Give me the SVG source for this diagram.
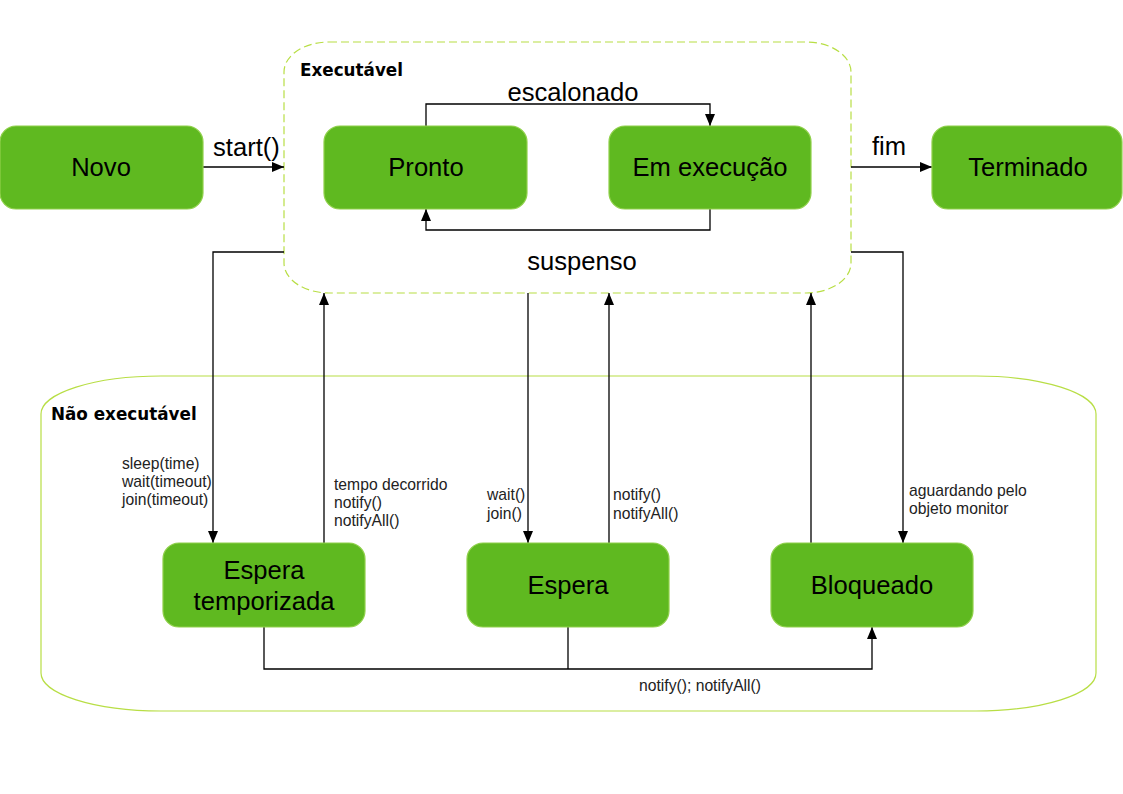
<svg xmlns="http://www.w3.org/2000/svg" width="1123" height="794" viewBox="0 0 1123 794">
<style>
.node{fill:#5fb920;stroke:#8fd04a;stroke-width:1.2}
.nl{font-family:"Liberation Sans",Arial,sans-serif;font-size:25.6px;fill:#000;text-anchor:middle}
.el{font-family:"Liberation Sans",Arial,sans-serif;font-size:25.6px;fill:#000}
.sl{font-family:"Liberation Sans",Arial,sans-serif;font-size:15.7px;fill:#222}
.tl{font-family:"DejaVu Sans",Verdana,sans-serif;font-size:16.8px;font-weight:bold;fill:#000}
.c{fill:none;stroke:#000;stroke-width:1.3}
</style>
<defs>
<marker id="ah" viewBox="0 0 12 10" refX="12" refY="5" markerWidth="12" markerHeight="10" markerUnits="userSpaceOnUse" orient="auto">
<path d="M0,0 L12,5 L0,10 Z" fill="#000"/>
</marker>
</defs>
<rect width="1123" height="794" fill="#fff"/>
<g id="nao-executavel">
<rect x="41" y="376" width="1055" height="335" rx="120" ry="38" fill="none" stroke="#b8de45" stroke-width="1.2"/>
<text class="tl" x="51" y="420">Não executável</text>
</g>
<g id="executavel">
<rect x="284" y="42" width="567" height="251" rx="45" ry="30" fill="none" stroke="#b8de45" stroke-width="1.2" stroke-dasharray="8,4"/>
<text class="tl" x="300" y="76">Executável</text>
</g>
<g id="connectors">
<path class="c" d="M203,167 H284" marker-end="url(#ah)"/>
<path class="c" d="M851,167 H932" marker-end="url(#ah)"/>
<path class="c" d="M426,126 V104 H710 V126" marker-end="url(#ah)"/>
<path class="c" d="M710,209 V230 H426 V209" marker-end="url(#ah)"/>
<path class="c" d="M284,252 H213 V543" marker-end="url(#ah)"/>
<path class="c" d="M324,543 V293" marker-end="url(#ah)"/>
<path class="c" d="M528,293 V543" marker-end="url(#ah)"/>
<path class="c" d="M609,543 V293" marker-end="url(#ah)"/>
<path class="c" d="M811,543 V293" marker-end="url(#ah)"/>
<path class="c" d="M851,252 H903 V543" marker-end="url(#ah)"/>
<path class="c" d="M264,627 V669 H872 V627" marker-end="url(#ah)"/>
<path class="c" d="M568,627 V669"/>
<text class="el" x="213" y="156">start()</text>
<text class="el" x="872" y="155">fim</text>
<text class="el" x="573" y="101" text-anchor="middle">escalonado</text>
<text class="el" x="582" y="270" text-anchor="middle">suspenso</text>
<text class="sl" x="122" y="469">sleep(time)</text>
<text class="sl" x="122" y="487">wait(timeout)</text>
<text class="sl" x="122" y="505">join(timeout)</text>
<text class="sl" x="334" y="490">tempo decorrido</text>
<text class="sl" x="334" y="508">notify()</text>
<text class="sl" x="334" y="526">notifyAll()</text>
<text class="sl" x="487" y="500">wait()</text>
<text class="sl" x="487" y="519">join()</text>
<text class="sl" x="613" y="500">notify()</text>
<text class="sl" x="613" y="519">notifyAll()</text>
<text class="sl" x="909" y="496">aguardando pelo</text>
<text class="sl" x="909" y="514">objeto monitor</text>
<text class="sl" x="639" y="691">notify(); notifyAll()</text>
</g>
<g id="novo"><rect class="node" x="0" y="126" width="203" height="83" rx="16"/><text class="nl" x="101" y="176">Novo</text></g>
<g id="pronto"><rect class="node" x="324" y="126" width="203" height="83" rx="16"/><text class="nl" x="426" y="176">Pronto</text></g>
<g id="em-execucao"><rect class="node" x="609" y="126" width="202" height="83" rx="16"/><text class="nl" x="710" y="176">Em execução</text></g>
<g id="terminado"><rect class="node" x="932" y="126" width="190" height="83" rx="16"/><text class="nl" x="1028" y="176">Terminado</text></g>
<g id="espera-temporizada"><rect class="node" x="163" y="543" width="202" height="84" rx="16"/><text class="nl" x="264" y="579">Espera</text><text class="nl" x="264" y="610">temporizada</text></g>
<g id="espera"><rect class="node" x="467" y="543" width="202" height="84" rx="16"/><text class="nl" x="568" y="594">Espera</text></g>
<g id="bloqueado"><rect class="node" x="771" y="543" width="202" height="84" rx="16"/><text class="nl" x="872" y="594">Bloqueado</text></g>
</svg>
